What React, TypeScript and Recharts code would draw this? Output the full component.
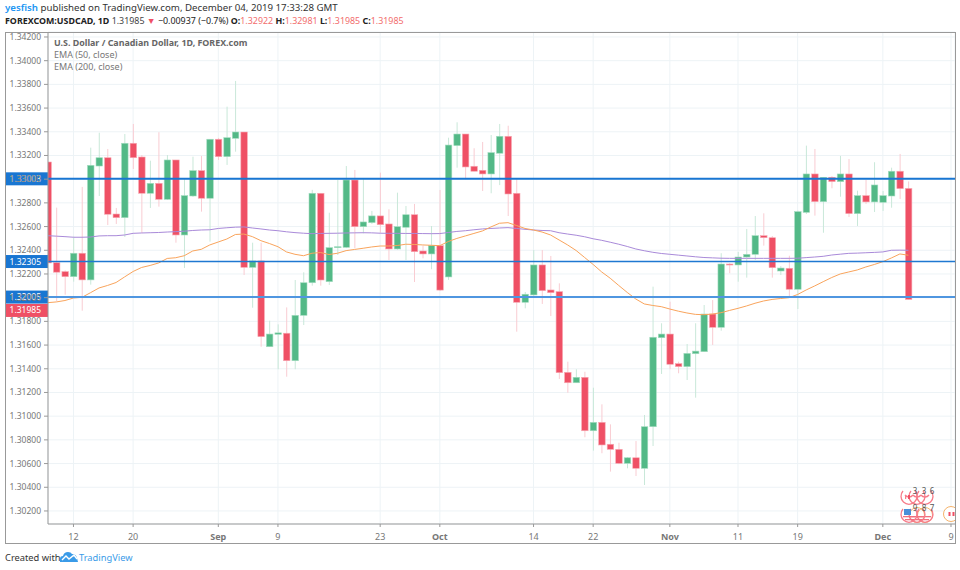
import React from "react";
import { ComposedChart, Bar, Line, XAxis, YAxis, CartesianGrid, ReferenceLine } from "recharts";

const opens = [1.33145,1.32295,1.3222,1.32177,1.32375,1.3215,1.33111,1.33181,1.32706,1.32675,1.33303,1.33187,1.32881,1.32965,1.3283,1.33162,1.32529,1.32858,1.33072,1.32839,1.33337,1.3319,1.33345,1.33398,1.32256,1.3231,1.31586,1.31691,1.317,1.31468,1.31851,1.32126,1.32881,1.32135,1.32422,1.32425,1.32993,1.32599,1.32633,1.3269,1.32622,1.32411,1.32594,1.327,1.32394,1.32369,1.32439,1.32175,1.33283,1.33381,1.33109,1.33075,1.33044,1.33219,1.33362,1.32881,1.31961,1.32023,1.32276,1.32065,1.32051,1.3137,1.31282,1.31328,1.30877,1.30948,1.30763,1.3072,1.30602,1.30649,1.3056,1.30911,1.31662,1.31693,1.31443,1.31418,1.31527,1.31544,1.31862,1.3175,1.32284,1.32276,1.32343,1.32366,1.32523,1.32506,1.32225,1.32248,1.32071,1.3272,1.33044,1.3281,1.33016,1.32979,1.33044,1.32709,1.32861,1.32808,1.32805,1.32858,1.33067,1.32922];
const closes = [1.32293,1.32215,1.32177,1.32375,1.3215,1.33117,1.33181,1.32704,1.32675,1.33303,1.33181,1.32881,1.32965,1.3283,1.33162,1.32529,1.32861,1.33072,1.32839,1.33337,1.3319,1.3335,1.33398,1.32256,1.3231,1.31671,1.31693,1.31703,1.31468,1.31851,1.32126,1.32881,1.32149,1.32422,1.3243,1.32993,1.32599,1.32639,1.3269,1.32616,1.32411,1.32599,1.327,1.32388,1.32369,1.32439,1.32064,1.33288,1.33381,1.33103,1.33067,1.33044,1.33224,1.33362,1.32875,1.31961,1.32029,1.32276,1.32059,1.32042,1.31367,1.31282,1.31328,1.30877,1.30948,1.30757,1.3072,1.30602,1.30649,1.3056,1.30911,1.31666,1.31693,1.31438,1.31418,1.3153,1.31549,1.31862,1.3175,1.32284,1.32276,1.32343,1.32366,1.32523,1.32506,1.32253,1.3225,1.32071,1.32726,1.33044,1.3281,1.33016,1.32979,1.33044,1.32709,1.32861,1.32808,1.32951,1.32861,1.33067,1.3292,1.31985];
const highs = [1.33145,1.3276,1.3223,1.32515,1.32935,1.33266,1.33392,1.33255,1.32757,1.33381,1.33466,1.33204,1.33156,1.33396,1.33204,1.33162,1.33008,1.3319,1.33196,1.33337,1.33348,1.33612,1.33829,1.33398,1.32464,1.32464,1.31806,1.31775,1.31918,1.32149,1.32214,1.3291,1.32881,1.32717,1.32993,1.33111,1.33078,1.3301,1.32732,1.33055,1.32746,1.32886,1.32774,1.32791,1.32439,1.32605,1.32909,1.3335,1.3348,1.33381,1.33261,1.33314,1.33373,1.33466,1.33451,1.33008,1.32048,1.32402,1.32402,1.32352,1.32121,1.3146,1.31396,1.31375,1.3124,1.311,1.30931,1.30776,1.30655,1.3079,1.3101,1.32093,1.31784,1.31966,1.3146,1.31609,1.31784,1.31938,1.3198,1.32375,1.32292,1.32386,1.3258,1.32689,1.32712,1.3252,1.32267,1.32354,1.32735,1.33283,1.33255,1.33016,1.33025,1.33196,1.3317,1.32903,1.32993,1.33143,1.329,1.33097,1.33213,1.32981];
const lows = [1.32293,1.3197,1.32025,1.32135,1.3189,1.3211,1.32858,1.32613,1.32622,1.32512,1.33086,1.32546,1.32757,1.32768,1.32824,1.32464,1.3225,1.3285,1.32726,1.32473,1.33162,1.3312,1.33232,1.32191,1.31915,1.31586,1.31586,1.31396,1.31333,1.31396,1.31769,1.32101,1.32101,1.32107,1.3236,1.32418,1.32417,1.32543,1.32622,1.32548,1.32318,1.32405,1.32318,1.32132,1.32332,1.3224,1.32056,1.3215,1.33097,1.32999,1.33067,1.329,1.32881,1.3295,1.32689,1.31713,1.3191,1.32005,1.31947,1.31845,1.31314,1.31198,1.31282,1.30822,1.30709,1.30687,1.30532,1.30595,1.3056,1.30495,1.30419,1.30748,1.31356,1.31396,1.31362,1.31305,1.31156,1.31544,1.31601,1.31721,1.32206,1.32135,1.32169,1.32318,1.32439,1.32169,1.32191,1.32,1.31904,1.32706,1.32692,1.32548,1.32923,1.32852,1.32681,1.32605,1.32791,1.32723,1.32732,1.32759,1.32833,1.31985];
const ema50 = [1.31958,1.31964,1.31976,1.31997,1.32003,1.32042,1.32082,1.32103,1.32128,1.32175,1.32221,1.32255,1.32272,1.32293,1.32331,1.32337,1.32354,1.32394,1.32408,1.32445,1.3247,1.32495,1.32533,1.32537,1.32515,1.32481,1.32457,1.3243,1.32386,1.32366,1.32354,1.32375,1.32381,1.32364,1.32375,1.32397,1.32407,1.32417,1.32428,1.32436,1.32436,1.3244,1.32451,1.32449,1.32445,1.32442,1.32439,1.32474,1.325,1.32521,1.32542,1.32563,1.32597,1.32628,1.32633,1.32609,1.32584,1.32571,1.32554,1.32529,1.32487,1.32445,1.32398,1.32339,1.3228,1.32217,1.32164,1.32103,1.32044,1.31989,1.31947,1.31934,1.31924,1.31904,1.31886,1.31871,1.31859,1.31856,1.31862,1.31873,1.31892,1.3191,1.3193,1.31953,1.31972,1.31985,1.31993,1.32,1.32027,1.32065,1.32099,1.32135,1.3217,1.322,1.32217,1.32234,1.32259,1.3228,1.32304,1.32335,1.32369,1.32358];
const ema200 = [1.32523,1.32519,1.32515,1.3251,1.3251,1.32512,1.32521,1.32523,1.32523,1.32529,1.32543,1.32546,1.32548,1.3255,1.32554,1.32557,1.32561,1.32567,1.32571,1.32573,1.32584,1.3259,1.32595,1.32597,1.32588,1.3258,1.32571,1.32565,1.32556,1.32549,1.32544,1.3254,1.32542,1.32543,1.32544,1.32546,1.32547,1.32548,1.32547,1.32544,1.32543,1.32543,1.32542,1.32542,1.32541,1.3254,1.32541,1.3255,1.32559,1.32565,1.32573,1.3258,1.32584,1.32588,1.32591,1.32584,1.32577,1.32571,1.32567,1.32565,1.32548,1.32537,1.32527,1.32514,1.32497,1.32484,1.32468,1.32451,1.32432,1.32411,1.32396,1.32383,1.32373,1.32366,1.32359,1.32352,1.32345,1.32339,1.32336,1.32333,1.32332,1.32332,1.32332,1.32332,1.32332,1.32332,1.32332,1.32332,1.32333,1.32338,1.32343,1.32349,1.3236,1.32367,1.32374,1.32376,1.32379,1.32382,1.32386,1.324,1.32401,1.324];

const priceTicks = [1.302,1.304,1.306,1.308,1.31,1.312,1.314,1.316,1.318,1.32,1.322,1.324,1.326,1.328,1.33,1.332,1.334,1.336,1.338,1.34,1.342];
const dateTickIndexes = [3,10,20,27,39,46,57,64,73,81,88,98,106];
const dateTickLabels = ["12","20","Sep","9","23","Oct","14","22","Nov","11","19","Dec","9"];
const boldLabels = ["Sep","Oct","Nov","Dec"];

const rows = opens.map((open, i) => ({
  i,
  open,
  close: closes[i],
  high: highs[i],
  low: lows[i],
  ema50: ema50[i],
  ema200: ema200[i],
}));

const FONT = "'Noto Sans', sans-serif";
const UP = "#53b987";
const DOWN = "#ef5065";

function Candle(props: any) {
  const { x, y, width, height, payload } = props;
  const { open, close, high, low } = payload;
  const k = height / (high - low);
  const yOf = (v: number) => y + (high - v) * k;
  const up = close >= open;
  const top = yOf(Math.max(open, close));
  const bottom = yOf(Math.min(open, close));
  const cx = x + width / 2;
  return (
    <g>
      <line x1={cx} x2={cx} y1={y} y2={y + height} stroke={up ? "#c9e8d9" : "#f9ccd2"} strokeWidth={1} />
      <rect x={x + 0.25} y={top} width={width - 0.5} height={Math.max(bottom - top, 1)} fill={up ? UP : DOWN} stroke={up ? "#a4dcc0" : "#f7a9b3"} strokeWidth={0.6} />
    </g>
  );
}

function DateTick(props: any) {
  const { x, y, payload } = props;
  const label = dateTickLabels[dateTickIndexes.indexOf(payload.value)];
  const bold = boldLabels.includes(label);
  return (
    <text x={x} y={y + 11} textAnchor="middle" fontFamily={FONT} fontSize={9} fontWeight={bold ? 700 : 400} fill="#777">
      {label}
    </text>
  );
}

function PriceTag(props: any) {
  const { viewBox, value, fill, dy } = props;
  const cy = viewBox.y + (dy || 0);
  return (
    <g>
      <rect x={viewBox.x - 43} y={cy - 6.5} width={43} height={13} fill={fill} />
      <text x={viewBox.x - 7} y={cy + 3} textAnchor="end" fontFamily={FONT} fontSize={8.5} fill="#fff">{value}</text>
    </g>
  );
}

const BADGE_XS = [925, 917, 909];

function Badges() {
  return (
    <svg width={960} height={570} style={{ position: "absolute", left: 0, top: 0, pointerEvents: "none" }}>
      <defs>
        <clipPath id="plotClip"><rect x={48} y={32} width={907} height={492} /></clipPath>
      </defs>
      <g clipPath="url(#plotClip)">
        <circle cx={917} cy={515} r={7.5} fill="none" stroke="#f5b36b" />
        <circle cx={925} cy={515} r={7.5} fill="none" stroke="#f5b36b" />
        <circle cx={951} cy={514} r={7.5} fill="#fff" stroke="#f5b36b" />
        <rect x={948.5} y={512} width={2} height={4} fill="#ef5065" />
        <rect x={952.5} y={512} width={2} height={4} fill="#ef5065" />
        {BADGE_XS.map((cx) => (
          <g key={"u" + cx} fill="none" stroke="#f77c8a">
            <path d={`M ${cx - 6} 491 A 8 8 0 1 0 ${cx + 6} 491`} strokeWidth={1.3} />
            <path d={`M ${cx - 4} 495 A 5 5 0 0 0 ${cx + 4} 495`} strokeWidth={1.3} />
          </g>
        ))}
        <rect x={908} y={495} width={2} height={4} fill="#ef5065" />
        <rect x={905} y={495} width={1.2} height={4} fill="#f77c8a" />
        {BADGE_XS.map((cx) => (
          <g key={"l" + cx}>
            <path d={`M ${cx - 6} 509 A 8 8 0 1 0 ${cx + 6} 509`} fill="none" stroke="#f77c8a" strokeWidth={1.3} />
            <rect x={cx - 6} y={516} width={12} height={1.3} fill="#f0707f" />
            <rect x={cx - 4} y={519} width={8} height={1.3} fill="#f0707f" />
          </g>
        ))}
        <rect x={904} y={509} width={7} height={6} fill="#4a90d9" />
        <g fontFamily={FONT} fontSize={8} fill="#555" textAnchor="middle">
          <text x={915} y={494}>3</text>
          <text x={924} y={494}>3</text>
          <text x={932} y={494}>6</text>
          <text x={915} y={511}>9</text>
          <text x={924} y={511}>8</text>
          <text x={932} y={511}>7</text>
        </g>
      </g>
    </svg>
  );
}

const red = { color: "#f26d6d" };

function Header() {
  const base: React.CSSProperties = { position: "absolute", left: 5, whiteSpace: "nowrap", fontFamily: FONT, fontSize: 9.6, lineHeight: "12px", color: "#333" };
  return (
    <>
      <div style={{ ...base, top: 2, fontSize: 9.7 }}>
        <span style={{ color: "#2196f3", fontWeight: 600 }}>yesfish</span> published on TradingView.com, December 04, 2019 17:33:28 GMT
      </div>
      <div style={{ ...base, top: 15, fontSize: 8.9, color: "#222" }}>
        <span style={{ fontWeight: 700 }}>FOREXCOM:USDCAD, 1D</span> <span style={{ color: "#444" }}>1.31985</span> <span style={{ color: "#ef5065" }}>▼</span> −0.00937 (−0.7%){" "}
        <b>O:</b><span style={red}>1.32922</span> <b>H:</b><span style={red}>1.32981</span> <b>L:</b><span style={red}>1.31985</span> <b>C:</b><span style={red}>1.31985</span>
      </div>
      <div style={{ ...base, left: 54, top: 37, fontSize: 8.9, fontWeight: 700, color: "#666" }}>U.S. Dollar / Canadian Dollar, 1D, FOREX.com</div>
      <div style={{ ...base, left: 54, top: 49, fontSize: 9, color: "#777" }}>EMA (50, close)</div>
      <div style={{ ...base, left: 54, top: 61, fontSize: 9, color: "#777" }}>EMA (200, close)</div>
      <div style={{ position: "absolute", left: 5, top: 32, width: 949, height: 510, border: "1px solid #999", pointerEvents: "none" }} />
      <div style={{ ...base, top: 552, fontSize: 9.3, color: "#333" }}>Created with</div>
      <svg width={20} height={12} style={{ position: "absolute", left: 59, top: 551 }}>
        <path d="M1 11 L1 8 Q1 5 4 5 Q5 1 9 1 Q12 1 13 3 Q17 3 18 7 L19 11 Z" fill="#3a9be8" />
        <path d="M3 9 L7 5 L10 8 L15 4 L18 8" fill="none" stroke="#fff" strokeWidth={1.4} />
      </svg>
      <div style={{ ...base, left: 79, top: 552, fontSize: 9.3, color: "#3a9be8" }}>TradingView</div>
    </>
  );
}

export default function App() {
  return (
    <div style={{ position: "absolute", left: 0, top: 0, width: 960, height: 570, background: "#fff", overflow: "hidden" }}>
      <ComposedChart
        width={960}
        height={570}
        data={rows}
        margin={{ top: 32, right: 5, bottom: 27, left: 5 }}
        style={{ position: "absolute", left: 0, top: 0 }}
      >
        <CartesianGrid stroke="#edf3f6" strokeWidth={1} />
        <XAxis
          dataKey="i"
          type="number"
          domain={[0.01, 106.47]}
          allowDataOverflow
          ticks={dateTickIndexes}
          interval={0}
          height={19}
          tick={<DateTick />}
          tickSize={3}
          stroke="#999"
        />
        <YAxis
          type="number"
          domain={[1.3009, 1.34242]}
          allowDataOverflow
          ticks={priceTicks}
          interval={0}
          width={43}
          tickFormatter={(v: number) => v.toFixed(5)}
          tick={{ fontFamily: FONT, fontSize: 8.5, fill: "#777" }}
          tickSize={4}
          tickMargin={3}
          stroke="#999"
        />
        <Line dataKey="ema200" stroke="#a98ad9" strokeWidth={1} dot={false} isAnimationActive={false} />
        <Line dataKey="ema50" stroke="#f9a45c" strokeWidth={1} dot={false} isAnimationActive={false} />
        <Bar dataKey={(d: any) => [d.low, d.high]} barSize={7} shape={<Candle />} isAnimationActive={false} />
        <ReferenceLine y={1.33003} stroke="#1976d2" strokeWidth={2} label={<PriceTag value="1.33003" fill="#1976d2" />} />
        <ReferenceLine y={1.32305} stroke="#1f78d1" strokeWidth={1.4} label={<PriceTag value="1.32305" fill="#1976d2" />} />
        <ReferenceLine y={1.32005} stroke="#4f96e0" strokeWidth={2} label={<PriceTag value="1.32005" fill="#1976d2" />} />
        <ReferenceLine y={1.31985} stroke="none" label={<PriceTag value="1.31985" fill="#ef5065" dy={11} />} />
      </ComposedChart>
      <Badges />
      <Header />
    </div>
  );
}
